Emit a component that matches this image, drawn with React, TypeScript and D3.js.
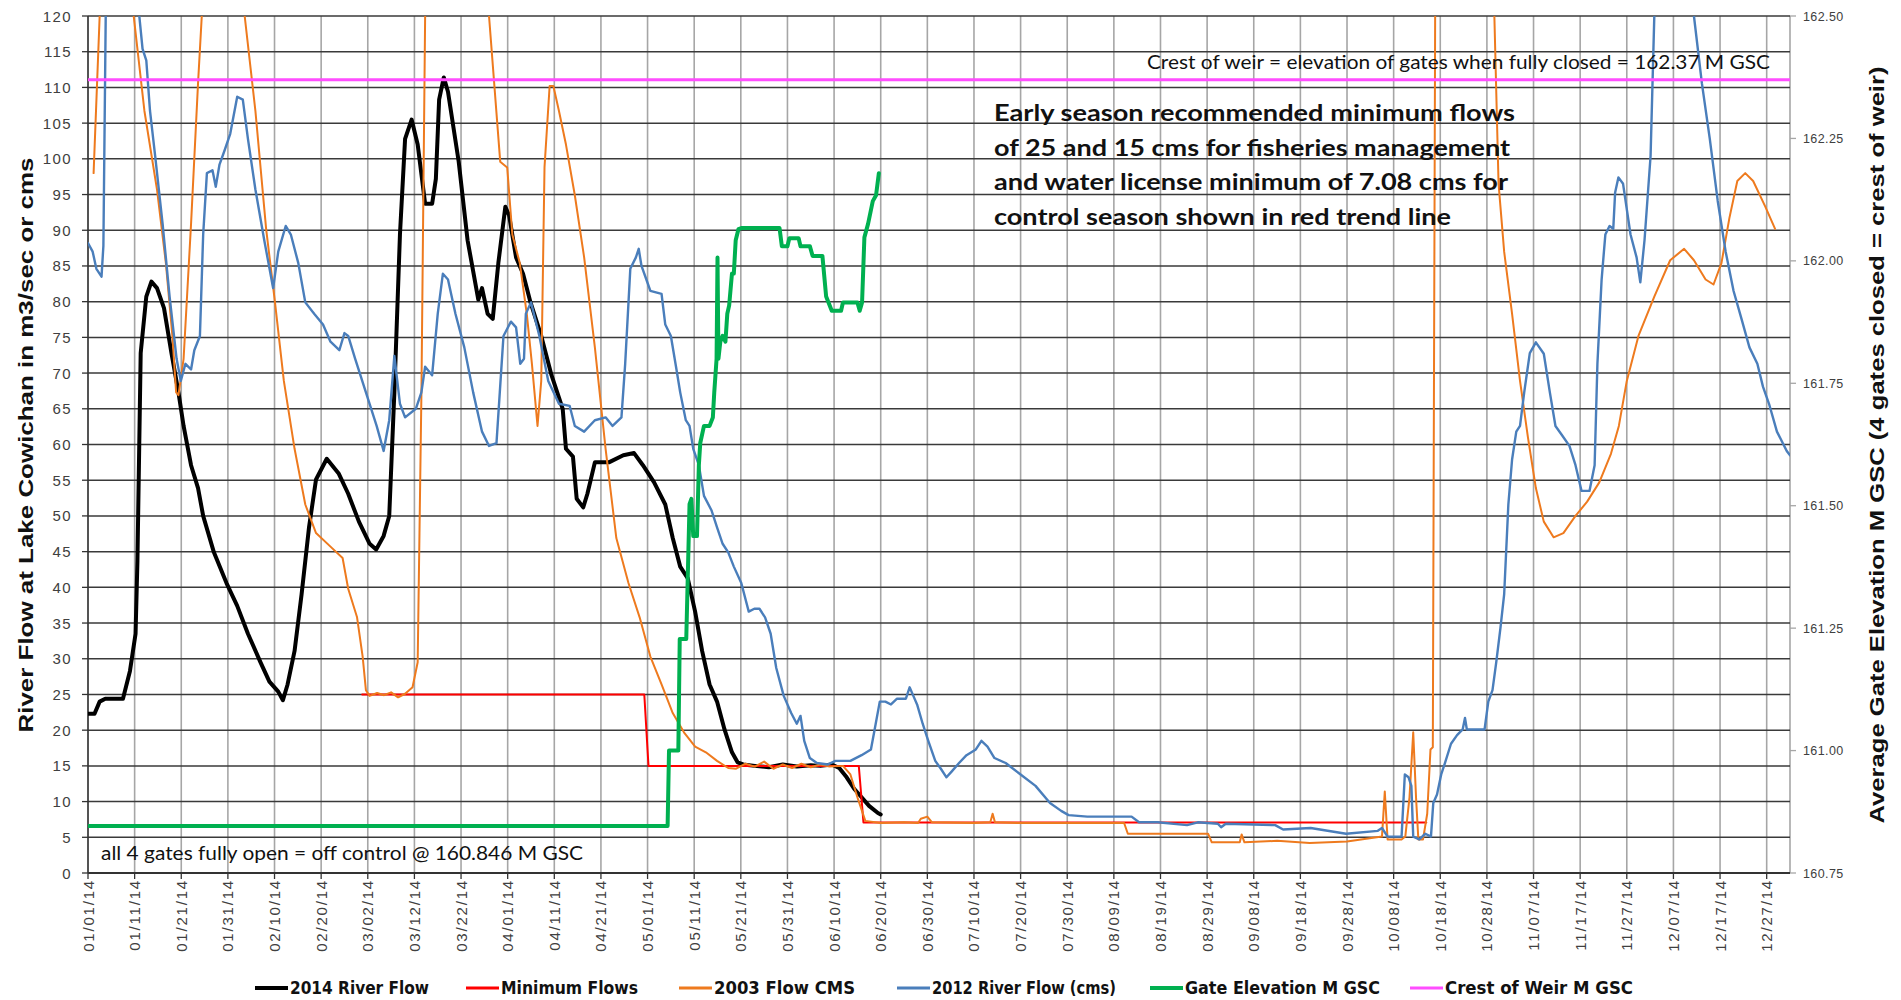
import React from "react";
import * as d3 from "d3";

type P = [number, number];

// x positions are days since 01/01/14
const START = new Date(2014, 0, 1);
const xTickDays = d3.range(0, 361, 10);
const yLeftTicks = d3.range(0, 121, 5);
const yRightTicks = [160.75, 161.0, 161.25, 161.5, 161.75, 162.0, 162.25, 162.5];

const flow2014: P[] = [
  [0, 22.3], [1.4, 22.3], [2.5, 24], [3.7, 24.4], [7.5, 24.4], [9, 28.3], [10.2, 33.5], [10.6, 43.7],
  [11.3, 72.8], [12.5, 80.7], [13.6, 82.8], [14.8, 81.9], [16.3, 79.1], [17.9, 72.8], [19.4, 67.3],
  [20.5, 62.6], [22.1, 57.1], [23.6, 53.9], [24.7, 50], [27, 44.9], [29.7, 40.6], [32, 37.4], [34.3, 33.5],
  [37, 29.5], [38.9, 26.8], [40.8, 25.4], [41.8, 24.2], [42.8, 26.4], [44.3, 31.1], [45.8, 39], [47.4, 48.4],
  [48.9, 55.1], [51.2, 58], [53.8, 55.9], [55.8, 53.1], [58.1, 49.2], [60.4, 46.1], [61.8, 45.3], [63.4, 47.2],
  [64.6, 50], [65.7, 67.3], [66.9, 89.4], [68, 102.8], [69.4, 105.5], [70.7, 102], [72.3, 93.7], [73.8, 93.7],
  [74.6, 97.2], [75.3, 108.3], [76.3, 111.4], [77.2, 109.4], [79.5, 99.6], [81.4, 88.6], [83.7, 80.3],
  [84.5, 81.9], [85.7, 78.3], [86.8, 77.6], [88, 85.4], [89.5, 93.3], [90.3, 92.1], [91.8, 86.2], [93.3, 83.9],
  [94.9, 79.9], [97.2, 75.2], [99.4, 69.7], [101.8, 65], [102.5, 59.4], [104, 58.3], [104.8, 52.4],
  [106.2, 51.2], [107.1, 53.1], [108.7, 57.5], [111.7, 57.5], [114.8, 58.5], [117.1, 58.8], [119, 57.1],
  [121.4, 54.7], [123.8, 51.6], [125.4, 46.9], [127, 42.9], [128.6, 41.3], [130.2, 36.6], [131.7, 31.1],
  [133.3, 26.4], [134.9, 24], [136.5, 20.1], [138.1, 16.9], [139.3, 15.5], [140.5, 15.2], [143, 15],
  [146, 14.8], [149, 15.2], [152, 14.9], [155, 15.1], [157.1, 15], [159.5, 15.2], [161.1, 14.7],
  [162.7, 13.4], [164.3, 11.8], [165.9, 10.6], [167.5, 9.4], [169.4, 8.4], [170, 8.2],
];

const minimumFlows: P[] = [
  [58.8, 25], [119.3, 25], [120.2, 15], [165.3, 15], [166.3, 7.08], [287, 7.08],
];

const flow2003: P[] = [
  [1.2, 98], [2.5, 120], [3, 140], [9.3, 140], [9.8, 120], [12.1, 106.7], [14.8, 95.7], [16.7, 85.4],
  [18.1, 75.2], [18.9, 67.3], [19.4, 66.9], [20.5, 72], [22.1, 90.9], [23.6, 110.6], [24.4, 120], [25, 140],
  [33, 140], [33.6, 120], [35.9, 106.7], [38.2, 90.2], [40.1, 79.9], [42, 68.9], [44.3, 59.4], [46.6, 51.6],
  [48.9, 47.6], [52, 45.7], [54.6, 44.1], [55.8, 39.8], [57.7, 35.8], [58.9, 30.3], [59.6, 25.6], [60.4, 24.8],
  [62, 25.2], [63.5, 24.9], [65, 25.3], [66.5, 24.6], [68, 25.1], [69.6, 26], [70.7, 29.5], [71.5, 67],
  [72.3, 120], [72.8, 140], [85.5, 140], [86, 120], [88.4, 99.6], [89.9, 98.8], [91, 89.4], [92.6, 85.4],
  [94.1, 78.3], [95.2, 71.3], [96.4, 62.6], [97.2, 68.9], [97.9, 98.8], [99, 110.2], [99.8, 110.2],
  [101, 106.7], [102.5, 102], [104.4, 94.9], [106.4, 86.2], [108.7, 73.6], [111, 59.4], [113.3, 46.9],
  [115.9, 40.6], [118.3, 35.8], [120.6, 30.3], [123, 26.4], [125.4, 22.4], [127.8, 19.7], [130.2, 17.7],
  [132.5, 16.9], [134.9, 15.7], [137.3, 14.7], [139, 14.6], [141, 15.3], [143, 14.9], [145, 15.6],
  [147, 14.6], [149, 15.2], [151, 14.7], [153, 15.3], [155, 14.8], [157, 15.2], [159, 14.9], [161.9, 15],
  [163.5, 13.8], [165, 10.6], [166.7, 7.3], [170, 7.0], [175, 7.1], [178, 7.0], [178.6, 7.6], [180, 7.9],
  [181, 7.1], [190, 7.0], [193.5, 7.1], [194, 8.3], [194.5, 7.1], [200, 7.0], [210, 7.0], [222.2, 7.0],
  [223, 5.5], [240.2, 5.5], [241, 4.3], [247, 4.3], [247.4, 5.4], [248, 4.3], [255, 4.5], [262, 4.2],
  [270, 4.4], [277.5, 5.1], [278.1, 11.4], [278.7, 4.7], [281.7, 4.7], [282.5, 5.1], [283.4, 10.6],
  [284.2, 19.7], [284.8, 10.6], [285.3, 4.7], [286.3, 4.7], [287.2, 8.3], [287.9, 17.3], [288.4, 17.6],
  [288.9, 120], [289.2, 140], [301.2, 140], [301.6, 120], [302.5, 96.5], [303.7, 87], [305.4, 78.3],
  [307.1, 68.9], [308.8, 61], [310.5, 53.9], [312.2, 49.2], [314.3, 47], [316.4, 47.6], [319, 50],
  [321.5, 52], [324.1, 54.7], [326.6, 58.7], [328.3, 62.6], [330, 68.9], [332.5, 75.2], [335.9, 80.7],
  [339.3, 85.8], [342.3, 87.4], [344.4, 85.8], [346.9, 83.1], [348.6, 82.4], [350.3, 85.4], [352, 91.7],
  [353.7, 96.9], [355.4, 98], [357.1, 96.9], [359.7, 93.3], [361.8, 90.2],
];

const flow2012: P[] = [
  [0, 88.2], [1, 87], [1.8, 84.6], [2.9, 83.5], [3.3, 87.8], [3.8, 120], [4.2, 140], [10.6, 140], [11, 120],
  [11.7, 115.4], [12.5, 113.8], [13.3, 106.7], [14.4, 100.4], [16, 90.9], [17.5, 80.7], [19, 72],
  [19.9, 68.9], [20.9, 71.3], [22.1, 70.5], [22.8, 73.2], [24, 75.2], [24.7, 89.4], [25.5, 98],
  [26.7, 98.4], [27.4, 96.1], [28.2, 99.2], [29.3, 101.2], [30.5, 103.5], [32, 108.7], [33.2, 108.3],
  [34.3, 102.8], [35.9, 95.7], [37.8, 88.6], [39.7, 81.9], [40.8, 87], [42.4, 90.6], [43.5, 89.4],
  [45.1, 85.4], [46.6, 79.9], [48.5, 78.3], [50.4, 76.8], [52, 74.4], [53.9, 73.2], [55, 75.6],
  [55.8, 75.2], [57.3, 72], [59.6, 67.3], [61.9, 62.6], [63.4, 59.1], [64.6, 63.4], [65.7, 72.4],
  [66.9, 65.7], [68, 63.8], [70.3, 65], [71.5, 67.3], [72.3, 70.9], [73.8, 69.7], [75, 78.3], [76.1, 83.9],
  [77.2, 83.1], [78.8, 78.3], [80.7, 73.6], [82.6, 67.3], [84.5, 61.8], [86, 59.8], [87.6, 60.2],
  [89.1, 75.2], [90.7, 77.2], [91.8, 76.4], [92.7, 71.3], [93.5, 72], [93.9, 78.3], [95, 79.9],
  [96.8, 75.2], [98.7, 68.9], [101, 65.7], [103.3, 65.4], [104.4, 62.6], [106.4, 61.8], [108.7, 63.4],
  [111, 63.8], [112.5, 62.6], [114.4, 63.8], [115.2, 71.3], [116.3, 84.6], [117.5, 86.2], [118.1, 87.4],
  [118.7, 85], [119.8, 83], [120.6, 81.5], [123, 81.1], [123.8, 76.8], [125, 75.2], [126.2, 70.5],
  [127, 67.3], [128.2, 63.4], [129, 62.6], [129.8, 59.4], [131, 57.1], [132.1, 52.8], [133.7, 50.8],
  [134.9, 48.4], [136.1, 46.1], [137.3, 44.9], [138.5, 42.9], [140.1, 40.6], [141.7, 36.6], [142.9, 37],
  [144, 37], [145.2, 35.8], [146.4, 33.5], [147.6, 28.7], [149.2, 24.8], [150.8, 22.4], [152, 20.9],
  [152.8, 22], [153.6, 18.5], [154.8, 16.1], [156.3, 15.4], [158.7, 15.2], [160.3, 15.7], [163.5, 15.7],
  [165.9, 16.5], [167.9, 17.3], [168.7, 20.1], [169.8, 24], [171, 24], [172.2, 23.6], [173.5, 24.4],
  [175.4, 24.4], [176.2, 26], [177, 24.8], [177.8, 23.6], [179, 20.9], [180.2, 18.5], [181.7, 15.7],
  [182.9, 14.6], [184.1, 13.4], [185.2, 14.2], [186.8, 15.4], [188.4, 16.5], [190.4, 17.3], [191.6, 18.5],
  [192.9, 17.7], [194.4, 16.1], [196.8, 15.4], [200, 13.8], [203.2, 12.2], [206.3, 9.8], [208.7, 8.7],
  [210.3, 8.1], [214.3, 7.9], [219, 7.9], [223.8, 7.9], [225.4, 7.1], [229.4, 7.1], [235.7, 6.7], [238, 7.1],
  [242.3, 6.9], [243, 6.4], [244, 6.9], [254.6, 6.7], [256.3, 6.1], [262.2, 6.3], [269.8, 5.5], [276.6, 5.9],
  [277.5, 6.3], [278.7, 5.1], [281.7, 5.1], [282.4, 13.8], [283.2, 13.4], [283.8, 12.2], [284.2, 5.1],
  [285.5, 4.7], [286.8, 5.5], [288, 5.1], [288.5, 9.8], [289.3, 11], [290.2, 13.8], [291, 15.4],
  [292.3, 18.1], [293.6, 19.3], [294.8, 20.1], [295.3, 21.7], [295.7, 20.1], [299.5, 20.1], [300.3, 24],
  [301.2, 25.6], [302, 29.5], [302.9, 34.3], [303.7, 39], [304.6, 51.6], [305.4, 57.9], [306.3, 61.8],
  [307.1, 62.6], [308, 67.3], [309.2, 72.8], [310.5, 74.3], [312.2, 72.7], [313.5, 67.3], [314.7, 62.6],
  [316, 61.4], [317.7, 59.8], [319, 57.1], [320.3, 53.5], [322, 53.5], [323.1, 57.1], [323.7, 71.3],
  [324.6, 83.1], [325.4, 89.4], [326.3, 90.6], [327.1, 90.2], [327.5, 95.3], [328.2, 97.4], [329.2, 96.5],
  [330.8, 89.4], [332.1, 86.2], [332.9, 82.7], [333.8, 88.6], [335.1, 100.4], [335.9, 120], [336.3, 140],
  [344, 140], [344.4, 120], [346.1, 110.6], [347.8, 102.8], [349.5, 94.1], [351.2, 87], [352.9, 81.5],
  [354.6, 77.6], [356.3, 73.6], [358, 71.3], [359.2, 68.1], [360.5, 65.7], [362.2, 61.8], [364.3, 59.1],
  [365, 58.5],
];

// Gate elevation in M GSC (right axis)
const gateElevation: P[] = [
  [0, 160.846], [124.3, 160.846], [124.6, 161.0], [126.6, 161.0], [126.9, 161.228], [128.3, 161.228],
  [129, 161.503], [129.4, 161.514], [129.8, 161.438], [130.6, 161.438], [131, 161.583], [131.3, 161.628],
  [132.1, 161.663], [133.3, 161.663], [134, 161.68], [134.3, 161.731], [134.8, 161.8], [135, 162.007],
  [135.2, 161.8], [135.6, 161.835], [136.1, 161.847], [136.7, 161.835], [137.1, 161.892], [137.5, 161.909],
  [138.1, 161.974], [138.5, 161.974], [138.9, 162.042], [139.5, 162.065], [140.1, 162.067], [148.3, 162.067],
  [148.8, 162.03], [150, 162.03], [150.4, 162.046], [152.4, 162.046], [152.8, 162.03], [154.8, 162.03],
  [155.4, 162.01], [157.5, 162.01], [158.3, 161.927], [159.5, 161.898], [161.5, 161.898], [161.9, 161.915],
  [165, 161.915], [165.5, 161.898], [166, 161.915], [166.5, 162.048], [167.3, 162.076], [168.3, 162.122],
  [169, 162.134], [169.6, 162.179],
];

const crestOfWeir: P[] = [[0, 162.37], [365, 162.37]];

const legendLabels = [
  "2014 River Flow", "Minimum Flows", "2003 Flow CMS", "2012 River Flow (cms)", "Gate Elevation M GSC", "Crest of Weir M GSC",
];
const legendColors = ["#000000", "#FF0000", "#EE7A1E", "#4A7EBB", "#00B050", "#FF4DFF"];
const legendWidths = [4, 2, 2, 2.4, 4, 3];

const noteLines = [
  "Early season recommended minimum flows",
  "of 25 and 15 cms for fisheries management",
  "and water license minimum of 7.08 cms for",
  "control season shown in red trend line",
];
const crestNote = "Crest of weir = elevation of gates when fully closed = 162.37 M GSC";
const gateNote = "all 4 gates fully open = off control @ 160.846 M GSC";
const leftTitle = "River Flow at Lake Cowichan in m3/sec or cms";
const rightTitle = "Average Gate Elevation M GSC (4 gates closed = crest of weir)";

export default function App() {
  const W = 1901, H = 1000;
  const L = 88, R = 1790, T = 16, B = 873;
  const x = d3.scaleLinear().domain([0, 365]).range([L, R]);
  const y = d3.scaleLinear().domain([0, 120]).range([B, T]);
  const yR = d3.scaleLinear().domain([160.75, 162.5]).range([B, T]);
  const lineL = d3.line<P>().x(d => x(d[0])).y(d => y(d[1]));
  const lineR = d3.line<P>().x(d => x(d[0])).y(d => yR(d[1]));
  const fmt = d3.timeFormat("%m/%d/%y");
  const axisFont = "'Liberation Sans', Arial, sans-serif";
  const narrow = "'Liberation Sans Narrow', 'Arial Narrow', 'DejaVu Sans Condensed', sans-serif";
  const noteFont = "Lato, 'Noto Sans', sans-serif";

  const legendX = [255, 466, 679, 897, 1150, 1410];
  const legendTextW = [139, 137, 141, 184, 195, 188];
  const noteW = [521, 516, 514, 457];

  return (
    <svg width={W} height={H} viewBox={`0 0 ${W} ${H}`} style={{ position: "absolute", left: 0, top: 0, background: "#fff" }}>
      <defs>
        <clipPath id="plot">
          <rect x={L} y={T} width={R - L} height={B - T} />
        </clipPath>
      </defs>
      <rect x={0} y={0} width={W} height={H} fill="#fff" />
      {/* vertical gridlines */}
      {xTickDays.map(d => (
        <line key={"vg" + d} x1={x(d)} x2={x(d)} y1={T} y2={B} stroke="#A6A6A6" strokeWidth={1.6} />
      ))}
      <line x1={R} x2={R} y1={T} y2={B} stroke="#A6A6A6" strokeWidth={1.6} />
      {/* horizontal gridlines */}
      {yLeftTicks.map(v => (
        <line key={"hg" + v} x1={L} x2={R} y1={y(v)} y2={y(v)} stroke="#3A3A3A" strokeWidth={1.5} />
      ))}
      {/* left axis */}
      <line x1={L} x2={L} y1={T} y2={B} stroke="#333" strokeWidth={1.5} />
      {yLeftTicks.map(v => (
        <g key={"yl" + v}>
          <line x1={L - 6} x2={L} y1={y(v)} y2={y(v)} stroke="#333" strokeWidth={1.3} />
          <text x={72} y={y(v) + 5.5} textAnchor="end" fontFamily={axisFont} fontSize={15} letterSpacing={1.4} fill="#404040">{v}</text>
        </g>
      ))}
      {/* right axis */}
      {yRightTicks.map(v => (
        <g key={"yr" + v}>
          <line x1={R} x2={R + 6} y1={yR(v)} y2={yR(v)} stroke="#A6A6A6" strokeWidth={1.3} />
          <text x={1803} y={yR(v) + 4.5} fontFamily={axisFont} fontSize={12.5} letterSpacing={0.4} fill="#404040">{v.toFixed(2)}</text>
        </g>
      ))}
      {/* x axis */}
      <line x1={L} x2={R} y1={B} y2={B} stroke="#333" strokeWidth={1.8} />
      {xTickDays.map(d => (
        <g key={"xt" + d}>
          <line x1={x(d)} x2={x(d)} y1={B} y2={B + 6} stroke="#333" strokeWidth={1.3} />
          <text transform={`translate(${x(d) + 5.5},879) rotate(-90)`} textAnchor="end" fontFamily={axisFont} fontSize={15} letterSpacing={1.8} fill="#404040">
            {fmt(d3.timeDay.offset(START, d))}
          </text>
        </g>
      ))}
      {/* series */}
      <g clipPath="url(#plot)" fill="none" strokeLinejoin="round" strokeLinecap="round">
        <path d={lineL(flow2014) ?? ""} stroke={legendColors[0]} strokeWidth={legendWidths[0]} />
        <path d={lineL(minimumFlows) ?? ""} stroke={legendColors[1]} strokeWidth={legendWidths[1]} />
        <path d={lineL(flow2003) ?? ""} stroke={legendColors[2]} strokeWidth={legendWidths[2]} />
        <path d={lineL(flow2012) ?? ""} stroke={legendColors[3]} strokeWidth={legendWidths[3]} />
        <path d={lineR(gateElevation) ?? ""} stroke={legendColors[4]} strokeWidth={legendWidths[4]} />
        <path d={lineR(crestOfWeir) ?? ""} stroke={legendColors[5]} strokeWidth={legendWidths[5]} />
      </g>
      {/* annotations */}
      <text x={1147} y={69} fontFamily={noteFont} fontSize={19} textLength={623} lengthAdjust="spacingAndGlyphs" fill="#111">{crestNote}</text>
      {noteLines.map((t, i) => (
        <text key={"n" + i} x={994} y={121 + i * 34.6} fontFamily={noteFont} fontWeight={700} fontSize={23} textLength={noteW[i]} lengthAdjust="spacingAndGlyphs" fill="#111">{t}</text>
      ))}
      <text x={101} y={860} fontFamily={noteFont} fontSize={19.5} textLength={482} lengthAdjust="spacingAndGlyphs" fill="#111">{gateNote}</text>
      {/* axis titles */}
      <text transform="translate(33,445) rotate(-90)" textAnchor="middle" fontFamily={axisFont} fontWeight={700} fontSize={21} textLength={575} lengthAdjust="spacingAndGlyphs" fill="#111">{leftTitle}</text>
      <text transform="translate(1884,445) rotate(-90)" textAnchor="middle" fontFamily={axisFont} fontWeight={700} fontSize={21} textLength={757} lengthAdjust="spacingAndGlyphs" fill="#111">{rightTitle}</text>
      {/* legend */}
      {legendLabels.map((lab, i) => (
        <g key={"lg" + i}>
          <line x1={legendX[i]} x2={legendX[i] + 33} y1={988} y2={988} stroke={legendColors[i]} strokeWidth={Math.max(3, legendWidths[i])} />
          <text x={legendX[i] + 35} y={994} fontFamily={narrow} fontWeight={700} fontSize={17} textLength={legendTextW[i]} lengthAdjust="spacingAndGlyphs" fill="#111">{lab}</text>
        </g>
      ))}
    </svg>
  );
}
